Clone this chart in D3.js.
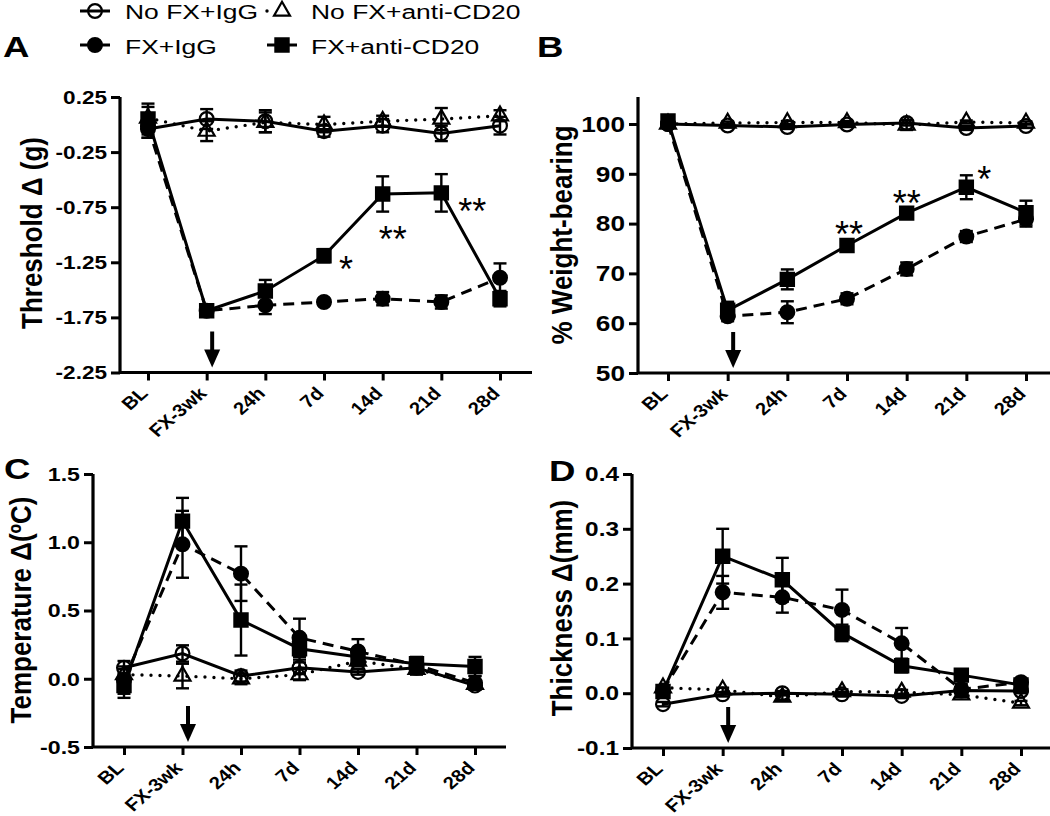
<!DOCTYPE html>
<html><head><meta charset="utf-8">
<script src="https://cdn.jsdelivr.net/npm/d3@7"></script>
<style>body{margin:0;background:#fff}svg{display:block}</style>
</head><body>
<svg id="c" width="1050" height="816"></svg>
<script>
// ---------- DATA ----------
const categories = ["BL", "FX-3wk", "24h", "7d", "14d", "21d", "28d"];
const seriesNames = ["No FX+IgG", "No FX+anti-CD20", "FX+IgG", "FX+anti-CD20"];

// Panel A: Threshold Δ (g)
const thrNoFxIgG      = [-0.04, 0.05, 0.03, -0.06, -0.01, -0.08, -0.01];
const thrNoFxIgGErr   = [0.08, 0.09, 0.10, 0.05, 0.06, 0.07, 0.08];
const thrNoFxCD20     = [0.06, -0.06, 0.02, 0.00, 0.03, 0.05, 0.08];
const thrNoFxCD20Err  = [0.10, 0.09, 0.09, 0.07, 0.05, 0.10, 0.05];
const thrFxIgG        = [-0.02, -1.69, -1.64, -1.61, -1.58, -1.61, -1.39];
const thrFxIgGErr     = [0.10, 0.03, 0.08, 0.03, 0.06, 0.06, 0.13];
const thrFxCD20       = [0.05, -1.69, -1.51, -1.19, -0.63, -0.62, -1.58];
const thrFxCD20Err    = [0.14, 0.03, 0.10, 0.06, 0.16, 0.17, 0.07];
const thrTicks        = [0.25, -0.25, -0.75, -1.25, -1.75, -2.25];
const thrTickLabels   = ["0.25", "-0.25", "-0.75", "-1.25", "-1.75", "-2.25"];
const thrStars        = [["7d", -1.24, "*"], ["14d", -0.97, "**"], ["21d", -0.71, "**"]];

// Panel B: % Weight-bearing
const wbNoFxIgG       = [100.0, 99.7, 99.4, 99.9, 100.2, 99.2, 99.6];
const wbNoFxIgGErr    = [0.6, 0.4, 0.4, 0.3, 0.5, 0.4, 0.4];
const wbNoFxCD20      = [100.0, 100.2, 100.3, 100.3, 99.8, 100.4, 100.2];
const wbNoFxCD20Err   = [0.4, 0.3, 0.3, 0.3, 1.0, 0.3, 0.3];
const wbFxIgG         = [100.0, 61.4, 62.2, 64.9, 70.9, 77.4, 80.9];
const wbFxIgGErr      = [0.5, 1.0, 2.2, 1.1, 1.3, 1.1, 1.5];
const wbFxCD20        = [100.6, 62.6, 68.8, 75.6, 82.1, 87.3, 82.2];
const wbFxCD20Err     = [0.8, 1.7, 2.0, 0.5, 0.5, 2.4, 2.4];
const wbTicks         = [100, 90, 80, 70, 60, 50];
const wbTickLabels    = ["100", "90", "80", "70", "60", "50"];
const wbStars         = [["7d", 79.5, "**"], ["14d", 85.7, "**"], ["21d", 90.6, "*"]];

// Panel C: Temperature Δ(ºC)
const tempNoFxIgG     = [0.08, 0.185, 0.02, 0.08, 0.05, 0.08, -0.05];
const tempNoFxIgGErr  = [0.05, 0.06, 0.04, 0.04, 0.02, 0.03, 0.03];
const tempNoFxCD20    = [0.03, 0.02, 0.00, 0.03, 0.13, 0.07, -0.04];
const tempNoFxCD20Err = [0.04, 0.09, 0.04, 0.04, 0.04, 0.04, 0.03];
const tempFxIgG       = [-0.01, 0.985, 0.77, 0.30, 0.20, 0.10, -0.03];
const tempFxIgGErr    = [0.10, 0.245, 0.20, 0.14, 0.09, 0.05, 0.05];
const tempFxCD20      = [-0.05, 1.155, 0.43, 0.22, 0.16, 0.11, 0.09];
const tempFxCD20Err   = [0.09, 0.17, 0.26, 0.08, 0.06, 0.05, 0.07];
const tempTicks       = [1.5, 1.0, 0.5, 0.0, -0.5];
const tempTickLabels  = ["1.5", "1.0", "0.5", "0.0", "-0.5"];

// Panel D: Thickness Δ(mm)
const thkNoFxIgG      = [-0.02, -0.002, 0.0, -0.002, -0.005, 0.005, 0.004];
const thkNoFxIgGErr   = [0.004, 0.004, 0.004, 0.004, 0.004, 0.004, 0.004];
const thkNoFxCD20     = [0.01, 0.006, -0.007, 0.003, 0.002, -0.003, -0.018];
const thkNoFxCD20Err  = [0.004, 0.004, 0.005, 0.004, 0.004, 0.004, 0.004];
const thkFxIgG        = [0.005, 0.184, 0.175, 0.152, 0.091, 0.007, 0.02];
const thkFxIgGErr     = [0.005, 0.03, 0.028, 0.037, 0.028, 0.01, 0.005];
const thkFxCD20       = [0.003, 0.25, 0.207, 0.11, 0.05, 0.033, 0.015];
const thkFxCD20Err    = [0.005, 0.05, 0.04, 0.015, 0.012, 0.005, 0.005];
const thkTicks        = [0.4, 0.3, 0.2, 0.1, 0.0, -0.1];
const thkTickLabels   = ["0.4", "0.3", "0.2", "0.1", "0.0", "-0.1"];

// ---------- DRAWING ----------
const svg = d3.select("#c");
const FONT = "'Liberation Sans', Arial, Helvetica, sans-serif";
const SX = 1.22;          // horizontal text stretch of the reference
const styles = [
  {marker: d3.symbolCircle,   size: 150, fill: "none",  dash: null,    cap: "butt"},
  {marker: d3.symbolTriangle, size: 110, fill: "none",  dash: "0,9",   cap: "round"},
  {marker: d3.symbolCircle,   size: 150, fill: "#000",  dash: "11,7",  cap: "butt"},
  {marker: d3.symbolSquare,   size: 175, fill: "#000",  dash: null,    cap: "butt"}
];

function stext(g, x, y, str, opts) {
  const t = g.append("text")
    .attr("transform", `translate(${x},${y}) scale(${opts.sx || SX},1)` + (opts.rot ? ` rotate(${opts.rot})` : ""))
    .attr("font-family", FONT)
    .attr("font-size", opts.size)
    .attr("font-weight", opts.weight || "bold")
    .attr("text-anchor", opts.anchor || "start")
    .attr("fill", "#000")
    .text(str);
  if (opts.dy) t.attr("dy", opts.dy);
  return t;
}

function panel(cfg) {
  const g = svg.append("g");
  const x = d3.scalePoint().domain(categories).range([cfg.x0, cfg.x1]);
  const y = d3.scaleLinear().domain(cfg.domain).range(cfg.range);
  const yBottom = y(cfg.domain[0]);
  const yTop = cfg.yTop != null ? cfg.yTop : y(cfg.domain[1]);

  // y ticks via d3 axis
  const ya = g.append("g").attr("transform", `translate(${cfg.axisX},0)`)
    .call(d3.axisLeft(y).tickValues(cfg.ticks).tickSize(9).tickSizeOuter(0).tickFormat(""));
  ya.select(".domain").remove();
  ya.selectAll("line").attr("stroke", "#000").attr("stroke-width", 3);
  // x ticks
  const xa = g.append("g").attr("transform", `translate(0,${yBottom})`)
    .call(d3.axisBottom(x).tickSize(8).tickSizeOuter(0).tickFormat(""));
  xa.select(".domain").remove();
  xa.selectAll("line").attr("stroke", "#000").attr("stroke-width", 3);
  // axis lines
  g.append("path").attr("d", `M${cfg.axisX},${yTop}V${yBottom}H${cfg.xEnd}`)
    .attr("fill", "none").attr("stroke", "#000").attr("stroke-width", 3.2).attr("stroke-linejoin", "miter");

  // y tick labels
  cfg.ticks.forEach((v, i) => {
    stext(g, cfg.axisX - 13, y(v), cfg.tickLabels[i], {size: cfg.tickFont, anchor: "end", dy: "0.36em"});
  });
  // x tick labels
  categories.forEach(c => {
    stext(g, x(c) + 1, yBottom + 22, c, {size: 17.5, anchor: "end", rot: -45, sx: 1.16});
  });
  // y title
  g.append("text")
    .attr("transform", `translate(${cfg.titleX},${cfg.titleY}) scale(1.12,1) rotate(-90)`)
    .attr("font-family", FONT).attr("font-size", 26).attr("font-weight", "bold")
    .attr("text-anchor", "middle").text(cfg.title);
  // panel letter
  stext(g, cfg.letterX, cfg.letterY, cfg.letter, {size: 30, sx: 1.22});

  // series
  cfg.series.forEach((s, i) => {
    const st = styles[i];
    const pts = categories.map((c, j) => ({c, v: s[0][j], e: s[1][j]}));
    const line = d3.line().x(d => x(d.c)).y(d => y(d.v));
    g.append("path").attr("d", line(pts)).attr("fill", "none").attr("stroke", "#000")
      .attr("stroke-width", st.dash === "0,9" ? 3.4 : 3)
      .attr("stroke-dasharray", st.dash).attr("stroke-linecap", st.cap);
    const eb = g.append("g").attr("stroke", "#000").attr("stroke-width", 2.4);
    pts.forEach(d => {
      const xx = x(d.c), y1 = y(d.v + d.e), y2 = y(d.v - d.e);
      eb.append("line").attr("x1", xx).attr("x2", xx).attr("y1", y1).attr("y2", y2);
      eb.append("line").attr("x1", xx - 6.5).attr("x2", xx + 6.5).attr("y1", y1).attr("y2", y1);
      eb.append("line").attr("x1", xx - 6.5).attr("x2", xx + 6.5).attr("y1", y2).attr("y2", y2);
    });
    g.selectAll(null).data(pts).enter().append("path")
      .attr("d", d3.symbol().type(st.marker).size(st.size))
      .attr("transform", d => `translate(${x(d.c)},${y(d.v)})`)
      .attr("fill", st.fill).attr("stroke", "#000").attr("stroke-width", 2.2);
  });

  // arrow at treatment start
  const ax = x("FX-3wk") + 5.5;
  g.append("line").attr("x1", ax).attr("x2", ax).attr("y1", yBottom - 41).attr("y2", yBottom - 20)
    .attr("stroke", "#000").attr("stroke-width", 4);
  g.append("path").attr("d", `M${ax - 8},${yBottom - 23}L${ax + 8},${yBottom - 23}L${ax},${yBottom - 5}Z`).attr("fill", "#000");

  // significance stars
  (cfg.stars || []).forEach((s, k) => {
    const dx = cfg.starDx[k];
    g.append("text").attr("x", x(s[0]) + dx).attr("y", y(s[1]) + 21)
      .attr("font-family", FONT).attr("font-size", 36).attr("text-anchor", "middle").text(s[2]);
  });
}

panel({
  letter: "A", letterX: 3, letterY: 57,
  axisX: 120, x0: 148, x1: 500, xEnd: 532,
  domain: [-2.25, 0.25], range: [372.5, 97],
  ticks: thrTicks, tickLabels: thrTickLabels, tickFont: 18.5,
  title: "Threshold \u0394 (g)", titleX: 42, titleY: 233,
  series: [[thrNoFxIgG, thrNoFxIgGErr], [thrNoFxCD20, thrNoFxCD20Err], [thrFxIgG, thrFxIgGErr], [thrFxCD20, thrFxCD20Err]],
  stars: thrStars, starDx: [22, 10, 31]
});
panel({
  letter: "B", letterX: 537, letterY: 57,
  axisX: 638, x0: 668, x1: 1026, xEnd: 1050,
  domain: [50, 100], range: [373, 124], yTop: 97,
  ticks: wbTicks, tickLabels: wbTickLabels, tickFont: 21.5,
  title: "% Weight-bearing", titleX: 572, titleY: 235,
  series: [[wbNoFxIgG, wbNoFxIgGErr], [wbNoFxCD20, wbNoFxCD20Err], [wbFxIgG, wbFxIgGErr], [wbFxCD20, wbFxCD20Err]],
  stars: wbStars, starDx: [2, 0, 18]
});
panel({
  letter: "C", letterX: 4, letterY: 479,
  axisX: 93, x0: 124, x1: 475, xEnd: 506,
  domain: [-0.5, 1.5], range: [747, 474],
  ticks: tempTicks, tickLabels: tempTickLabels, tickFont: 19,
  title: "Temperature \u0394(\u00BAC)", titleX: 31, titleY: 610,
  series: [[tempNoFxIgG, tempNoFxIgGErr], [tempNoFxCD20, tempNoFxCD20Err], [tempFxIgG, tempFxIgGErr], [tempFxCD20, tempFxCD20Err]]
});
panel({
  letter: "D", letterX: 549, letterY: 481,
  axisX: 632, x0: 663, x1: 1021, xEnd: 1050,
  domain: [-0.1, 0.4], range: [748, 474],
  ticks: thkTicks, tickLabels: thkTickLabels, tickFont: 20,
  title: "Thickness \u0394(mm)", titleX: 572, titleY: 608,
  series: [[thkNoFxIgG, thkNoFxIgGErr], [thkNoFxCD20, thkNoFxCD20Err], [thkFxIgG, thkFxIgGErr], [thkFxCD20, thkFxCD20Err]]
});

// ---------- LEGEND ----------
const lg = svg.append("g");
const legendPos = [[95, 11, 125, 18.5], [282, 11, 311, 18.5], [95, 45, 125, 53.5], [282, 45, 311, 53.5]];
seriesNames.forEach((name, i) => {
  const st = styles[i];
  const [mx, my, tx, ty] = legendPos[i];
  if (i === 1) {
    lg.append("line").attr("x1", mx - 15).attr("x2", mx + 15).attr("y1", my).attr("y2", my)
      .attr("stroke", "#000").attr("stroke-width", 3.4).attr("stroke-linecap", "round").attr("stroke-dasharray", "0,30");
  } else {
    lg.append("line").attr("x1", mx - 15).attr("x2", mx + 15).attr("y1", my).attr("y2", my)
      .attr("stroke", "#000").attr("stroke-width", 3);
  }
  lg.append("path").attr("d", d3.symbol().type(st.marker).size(st.size))
    .attr("transform", `translate(${mx},${my})`)
    .attr("fill", st.fill).attr("stroke", "#000").attr("stroke-width", 2.2);
  stext(lg, tx, ty, name, {size: 21, weight: "normal", sx: 1.26});
});
</script>
</body></html>
